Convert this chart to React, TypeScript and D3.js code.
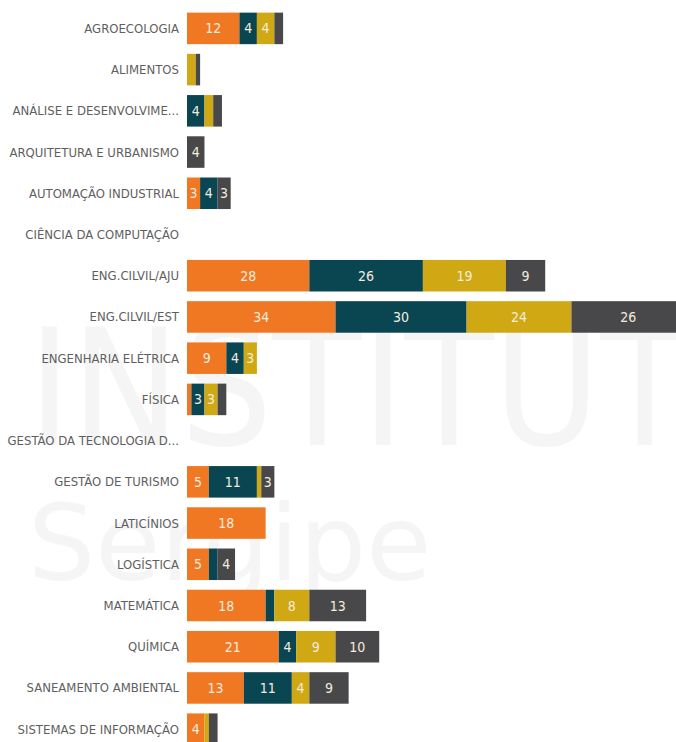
import { useEffect, useRef } from 'react';
import * as d3 from 'd3';

// cursos (labels already truncated like in the original)
const cursos = [
  'AGROECOLOGIA',
  'ALIMENTOS',
  'ANÁLISE E DESENVOLVIME...',
  'ARQUITETURA E URBANISMO',
  'AUTOMAÇÃO INDUSTRIAL',
  'CIÊNCIA DA COMPUTAÇÃO',
  'ENG.CILVIL/AJU',
  'ENG.CILVIL/EST',
  'ENGENHARIA ELÉTRICA',
  'FÍSICA',
  'GESTÃO DA TECNOLOGIA D...',
  'GESTÃO DE TURISMO',
  'LATICÍNIOS',
  'LOGÍSTICA',
  'MATEMÁTICA',
  'QUÍMICA',
  'SANEAMENTO AMBIENTAL',
  'SISTEMAS DE INFORMAÇÃO',
];

// four series, same order as cursos
const serieA = [12, 0, 0, 0, 3, 0, 28, 34, 9, 1, 0, 5, 18, 5, 18, 21, 13, 4];
const serieB = [4, 0, 4, 0, 4, 0, 26, 30, 4, 3, 0, 11, 0, 2, 2, 4, 11, 0];
const serieC = [4, 2, 2, 0, 0, 0, 19, 24, 3, 3, 0, 1, 0, 0, 8, 9, 4, 1];
const serieD = [2, 1, 2, 4, 3, 0, 9, 26, 0, 2, 0, 3, 0, 4, 13, 10, 9, 2];

const cores = ['#f07823', '#0a4652', '#cfa814', '#48484a'];

const W = 676;
const H = 742;
const FONT = 'DejaVu Sans Condensed, DejaVu Sans, sans-serif';

const App = () => {
  const svgRef = useRef(null);

  useEffect(() => {
    const svg = d3.select(svgRef.current);
    svg.selectAll('*').remove();

    const keys = ['a', 'b', 'c', 'd'];
    const rows = cursos.map((c, i) => ({
      curso: c,
      a: serieA[i],
      b: serieB[i],
      c: serieC[i],
      d: serieD[i],
    }));

    const stack = d3.stack().keys(keys)(rows);

    const x = d3.scaleLinear().domain([0, 114]).range([187, 685]);
    const y = d3.scaleBand().domain(cursos).range([7.8, 7.8 + 41.22 * cursos.length]).paddingInner(0.235).paddingOuter(0.117);

    // watermark in the background
    const wm = svg.append('g').attr('fill', '#f5f5f5');
    wm.append('text')
      .attr('x', 28)
      .attr('y', 445)
      .attr('font-family', FONT)
      .attr('font-size', 162)
      .text('INSTITUTO');
    wm.append('text')
      .attr('x', 28)
      .attr('y', 580)
      .attr('font-family', 'DejaVu Sans, sans-serif')
      .attr('font-size', 106)
      .text('Sergipe');

    // category labels
    svg.append('g')
      .selectAll('text')
      .data(cursos)
      .enter()
      .append('text')
      .attr('x', 179)
      .attr('y', d => y(d) + y.bandwidth() / 2)
      .attr('dy', '0.35em')
      .attr('text-anchor', 'end')
      .attr('font-family', FONT)
      .attr('font-size', 13)
      .attr('fill', '#5e5e5e')
      .text(d => d);

    // segments
    const layers = svg.append('g')
      .selectAll('g')
      .data(stack)
      .enter()
      .append('g')
      .attr('fill', (_d, i) => cores[i]);

    layers.selectAll('rect')
      .data(d => d)
      .enter()
      .append('rect')
      .attr('x', d => x(d[0]))
      .attr('y', d => y(d.data.curso))
      .attr('width', d => x(d[1]) - x(d[0]))
      .attr('height', y.bandwidth());

    // value labels, only when the segment is wide enough
    layers.selectAll('text')
      .data(d => d.filter(s => s[1] - s[0] >= 3))
      .enter()
      .append('text')
      .attr('x', d => (x(d[0]) + x(d[1])) / 2)
      .attr('y', d => y(d.data.curso) + y.bandwidth() / 2)
      .attr('dy', '0.36em')
      .attr('text-anchor', 'middle')
      .attr('font-family', FONT)
      .attr('font-size', 14)
      .attr('fill', '#f3ecdf')
      .text(d => d[1] - d[0]);
  }, []);

  return (
    <svg
      ref={svgRef}
      width={W}
      height={H}
      style={{ position: 'absolute', left: 0, top: 0, background: '#fff', overflow: 'hidden' }}
    />
  );
};

export default App;
